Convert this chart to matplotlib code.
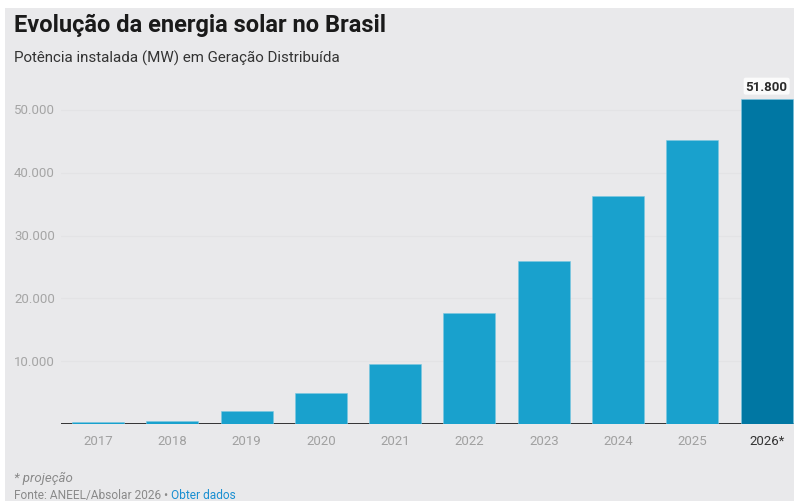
#!/usr/bin/env python3

import matplotlib.pyplot as plt
from matplotlib.patches import Rectangle

# data
years = ["2017", "2018", "2019", "2020", "2021", "2022", "2023", "2024", "2025", "2026*"]
power_mw = [250, 530, 2120, 4940, 9550, 17630, 25960, 36350, 45180, 51800]
y_ticks = [10000, 20000, 30000, 40000, 50000]

bg = "#e9e9eb"
bar_color = "#19a1cd"
last_color = "#0077a3"

plt.rcParams["font.family"] = ["Roboto", "DejaVu Sans"]

W, H = 794, 502
fig = plt.figure(figsize=(W / 100, H / 100), dpi=100, facecolor="white")

# gray panel with a thin white margin top/left
fig.patches.append(
    Rectangle((5 / W, 0), 1, (H - 9) / H, transform=fig.transFigure,
              facecolor=bg, edgecolor="none", zorder=-10)
)

fig.text(14 / W, 1 - 25 / H, "Evolução da energia solar no Brasil",
         fontsize=17, fontweight="bold", color="#1a1a1a", va="center")
fig.text(14 / W, 1 - 58 / H, "Potência instalada (MW) em Geração Distribuída",
         fontsize=10.9, color="#333333", va="center")

# plot area runs a bit past the right edge, like the original
ax = fig.add_axes([60.8 / W, 77 / H, 743 / W, 326.6 / H])
ax.set_facecolor("none")
ax.set_xlim(-0.5, len(years) - 0.5)
ax.set_ylim(0, 52000)

colors = [bar_color] * (len(years) - 1) + [last_color]
ax.bar(range(len(years)), power_mw, width=0.70, color=colors,
       edgecolor="#7cc8e2", linewidth=0.4, zorder=3)
ax.axhline(0, color="#333333", linewidth=1.4, zorder=2)

for t in y_ticks:
    ax.axhline(t, color="#e3e3e5", linewidth=0.8, zorder=1)
    ax.text(-0.58, t, f"{t:,}".replace(",", "."), transform=ax.transData,
            ha="right", va="center", fontsize=9.5, color="#a5a5a5")

for s in ax.spines.values():
    s.set_visible(False)
ax.set_yticks([])
ax.set_xticks(range(len(years)))
ax.set_xticklabels(years, fontsize=9.5)
ax.tick_params(axis="x", length=0, pad=7)
for i, lab in enumerate(ax.get_xticklabels()):
    lab.set_color("#333333" if i == len(years) - 1 else "#a0a0a0")

ax.annotate(f"{power_mw[-1]:,}".replace(",", "."), (len(years) - 1, power_mw[-1]),
            xytext=(0, 9), textcoords="offset points", ha="center", va="center",
            fontsize=9.5, fontweight="bold", color="#2a2a2a",
            bbox=dict(boxstyle="round,pad=0.15", facecolor="white",
                      edgecolor="none", alpha=0.85))

fig.text(14 / W, 1 - 478 / H, "* projeção", fontsize=9.5, style="italic",
         color="#8a8a8a", va="center")
src = fig.text(14 / W, 1 - 496 / H, "Fonte: ANEEL/Absolar 2026 • ", fontsize=8.6,
               color="#8a8a8a", va="center")
fig.canvas.draw()
bb = src.get_window_extent()
fig.text(bb.x1 / W, 1 - 496 / H, "Obter dados", fontsize=8.6,
         color="#1a8fd1", va="center")

fig.savefig("out.png", dpi=100, facecolor=fig.get_facecolor())
